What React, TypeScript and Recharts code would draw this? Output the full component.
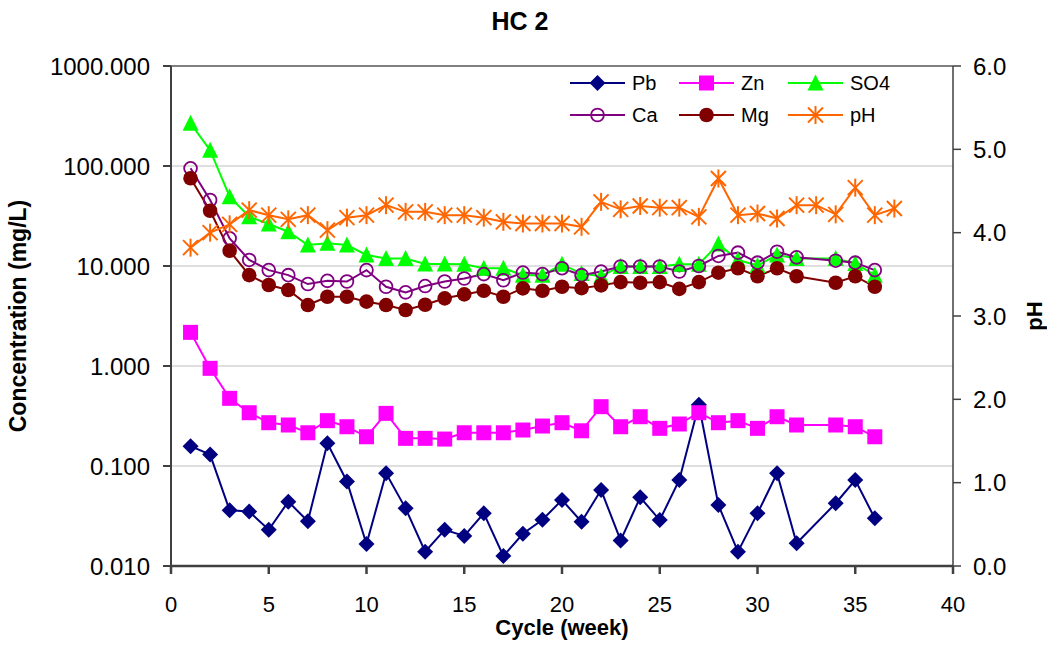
import React from 'react';
import { LineChart, Line, XAxis, YAxis, CartesianGrid, ReferenceLine } from 'recharts';

// cycle number (week) for every sample
const cycles = [1, 2, 3, 4, 5, 6, 7, 8, 9, 10, 11, 12, 13, 14, 15, 16, 17, 18, 19, 20, 21, 22, 23, 24, 25, 26, 27, 28, 29, 30, 31, 32, 33, 34, 35, 36, 37];

// concentrations in mg/L (null = not sampled)
const pb = [0.158, 0.13, 0.036, 0.035, 0.023, 0.044, 0.028, 0.169, 0.07, 0.0166, 0.0845, 0.0377, 0.0139, 0.023, 0.02, 0.0336, 0.0126, 0.021, 0.029, 0.0457, 0.0277, 0.0575, 0.018, 0.0486, 0.0288, 0.0724, 0.41, 0.0407, 0.0139, 0.0336, 0.0845, 0.0169, null, 0.0424, 0.0724, 0.03, null];
const zn = [2.17, 0.948, 0.475, 0.341, 0.271, 0.257, 0.215, 0.284, 0.247, 0.196, 0.336, 0.189, 0.189, 0.186, 0.215, 0.215, 0.215, 0.229, 0.251, 0.271, 0.225, 0.392, 0.247, 0.311, 0.238, 0.263, 0.341, 0.271, 0.284, 0.238, 0.311, 0.257, null, 0.257, 0.247, 0.196, null];
const so4 = [267, 144, 49.3, 31.1, 26.3, 22, 16.2, 16.9, 16.2, 12.9, 11.9, 11.9, 10.5, 10.5, 10.4, 9.5, 9.5, 8.1, 8.1, 10.4, 8.4, 7.9, 9.9, 9.9, 9.9, 10.4, 10.4, 16.6, 11.5, 10.1, 12.9, 11.9, null, 11.9, 10.6, 8.1, null];
const ca = [94.8, 45.7, 18.9, 11.5, 9.1, 8.1, 6.6, 7.1, 7.0, 9.1, 6.2, 5.45, 6.3, 7.0, 7.5, 8.3, 7.2, 8.6, 8.3, 9.5, 8.1, 8.8, 9.9, 9.9, 9.9, 8.8, 10, 12.6, 13.6, 10.8, 13.9, 12.2, null, 11.3, 10.8, 9.1, null];
const mg = [75.4, 35.7, 14.2, 8.1, 6.46, 5.75, 4.07, 4.93, 4.93, 4.4, 4.07, 3.63, 4.1, 4.75, 5.2, 5.66, 4.93, 5.98, 5.66, 6.2, 6.0, 6.4, 6.9, 6.8, 6.9, 5.9, 6.9, 8.57, 9.5, 7.9, 9.5, 7.9, null, 6.8, 7.9, 6.2, null];
// pH (right axis)
const ph = [3.82, 4.0, 4.1, 4.27, 4.21, 4.16, 4.21, 4.03, 4.18, 4.21, 4.33, 4.25, 4.25, 4.21, 4.21, 4.18, 4.13, 4.11, 4.11, 4.11, 4.07, 4.37, 4.28, 4.32, 4.3, 4.3, 4.19, 4.65, 4.21, 4.23, 4.17, 4.33, 4.33, 4.22, 4.54, 4.21, 4.29];

const xTicks = [0, 5, 10, 15, 20, 25, 30, 35, 40];
const concTicks = [0.01, 0.1, 1, 10, 100, 1000];
const phTicks = [0, 1, 2, 3, 4, 5, 6];

const FONT = '"Liberation Sans", Arial, Helvetica, sans-serif';

const data = cycles.map((cycle, i) => ({
  cycle,
  Pb: pb[i],
  Zn: zn[i],
  SO4: so4[i],
  Ca: ca[i],
  Mg: mg[i],
  pH: ph[i],
}));

type MarkerProps = { cx: number; cy: number; color: string };

const Diamond = ({ cx, cy, color }: MarkerProps) => (
  <polygon points={`${cx},${cy - 8} ${cx + 8},${cy} ${cx},${cy + 8} ${cx - 8},${cy}`} fill={color} />
);
const Square = ({ cx, cy, color }: MarkerProps) => (
  <rect x={cx - 7.5} y={cy - 7.5} width={15} height={15} fill={color} />
);
const Triangle = ({ cx, cy, color }: MarkerProps) => (
  <polygon points={`${cx},${cy - 8.5} ${cx + 8},${cy + 7.5} ${cx - 8},${cy + 7.5}`} fill={color} />
);
const OpenCircle = ({ cx, cy, color }: MarkerProps) => (
  <circle cx={cx} cy={cy} r={6.4} fill="none" stroke={color} strokeWidth={1.8} />
);
const Dot = ({ cx, cy, color }: MarkerProps) => <circle cx={cx} cy={cy} r={7.3} fill={color} />;
const Star = ({ cx, cy, color }: MarkerProps) => (
  <g stroke={color} strokeWidth={2}>
    <line x1={cx - 7.5} y1={cy - 7.5} x2={cx + 7.5} y2={cy + 7.5} />
    <line x1={cx - 7.5} y1={cy + 7.5} x2={cx + 7.5} y2={cy - 7.5} />
    <line x1={cx} y1={cy - 9} x2={cx} y2={cy + 9} />
  </g>
);

const series = [
  { key: 'Pb', color: '#000080', Marker: Diamond, axis: 'left' },
  { key: 'Zn', color: '#FF00FF', Marker: Square, axis: 'left' },
  { key: 'SO4', color: '#00FF00', Marker: Triangle, axis: 'left' },
  { key: 'Ca', color: '#800080', Marker: OpenCircle, axis: 'left' },
  { key: 'Mg', color: '#800000', Marker: Dot, axis: 'left' },
  { key: 'pH', color: '#FF6600', Marker: Star, axis: 'right' },
];

const tickStyle = { fill: '#000', fontSize: 24, fontFamily: FONT };

const Legend = () => (
  <g fontFamily={FONT} fontSize={20}>
    {series.map((s, i) => {
      const x = 570 + (i % 3) * 109;
      const y = i < 3 ? 83 : 115;
      const { Marker } = s;
      return (
        <g key={s.key}>
          <line x1={x} y1={y} x2={x + 55} y2={y} stroke={s.color} strokeWidth={2} />
          <Marker cx={x + 27.5} cy={y} color={s.color} />
          <text x={x + 62} y={y + 7} fill="#000">{s.key}</text>
        </g>
      );
    })}
  </g>
);

const App = () => {
  return (
    <div style={{ position: 'absolute', left: 0, top: 0, width: 1047, height: 649, background: '#fff' }}>
      <LineChart width={1047} height={649} data={data} margin={{ top: 66, right: 0, bottom: 0, left: 0 }}>
        <CartesianGrid yAxisId="left" vertical={false} stroke="#d4d4d4" strokeWidth={1.5} />
        <XAxis
          dataKey="cycle"
          type="number"
          domain={[0, 40]}
          ticks={xTicks}
          interval={0}
          height={83}
          tickSize={8}
          tickMargin={22}
          stroke="#404040"
          strokeWidth={2.5}
          tick={{ ...tickStyle, fontSize: 22 }}
        />
        <YAxis
          yAxisId="left"
          scale="log"
          domain={[0.01, 1000]}
          allowDataOverflow
          ticks={concTicks}
          interval={0}
          width={171}
          tickSize={8}
          tickMargin={13}
          tickFormatter={(v: number) => v.toFixed(3)}
          stroke="#404040"
          strokeWidth={2}
          tick={tickStyle}
        />
        <YAxis
          yAxisId="right"
          orientation="right"
          domain={[0, 6]}
          ticks={phTicks}
          interval={0}
          width={94}
          tickSize={8}
          tickMargin={12}
          tickFormatter={(v: number) => v.toFixed(1)}
          stroke="#404040"
          strokeWidth={1.5}
          tick={tickStyle}
        />
        <ReferenceLine yAxisId="left" y={1000} stroke="#808080" strokeWidth={2} />
        {series.map(({ key, color, Marker, axis }) => (
          <Line
            key={key}
            yAxisId={axis}
            dataKey={key}
            type="linear"
            stroke={color}
            strokeWidth={2}
            connectNulls
            isAnimationActive={false}
            activeDot={false}
            dot={(p: any) =>
              p.cx == null || p.cy == null || p.value == null ? (
                <g key={`${key}-${p.index}`} />
              ) : (
                <Marker key={`${key}-${p.index}`} cx={p.cx} cy={p.cy} color={color} />
              )
            }
          />
        ))}
      </LineChart>
      <svg
        width={1047}
        height={649}
        style={{ position: 'absolute', left: 0, top: 0, pointerEvents: 'none' }}
      >
        <text x={520} y={30} textAnchor="middle" fontFamily={FONT} fontSize={25} fontWeight="bold">
          HC 2
        </text>
        <text x={562} y={635} textAnchor="middle" fontFamily={FONT} fontSize={22} fontWeight="bold">
          Cycle (week)
        </text>
        <text
          x={26}
          y={316}
          transform="rotate(-90 26 316)"
          textAnchor="middle"
          fontFamily={FONT}
          fontSize={23}
          fontWeight="bold"
        >
          Concentration (mg/L)
        </text>
        <text
          x={1042}
          y={316}
          transform="rotate(-90 1042 316)"
          textAnchor="middle"
          fontFamily={FONT}
          fontSize={22}
          fontWeight="bold"
        >
          pH
        </text>
        <Legend />
      </svg>
    </div>
  );
};

export default App;
